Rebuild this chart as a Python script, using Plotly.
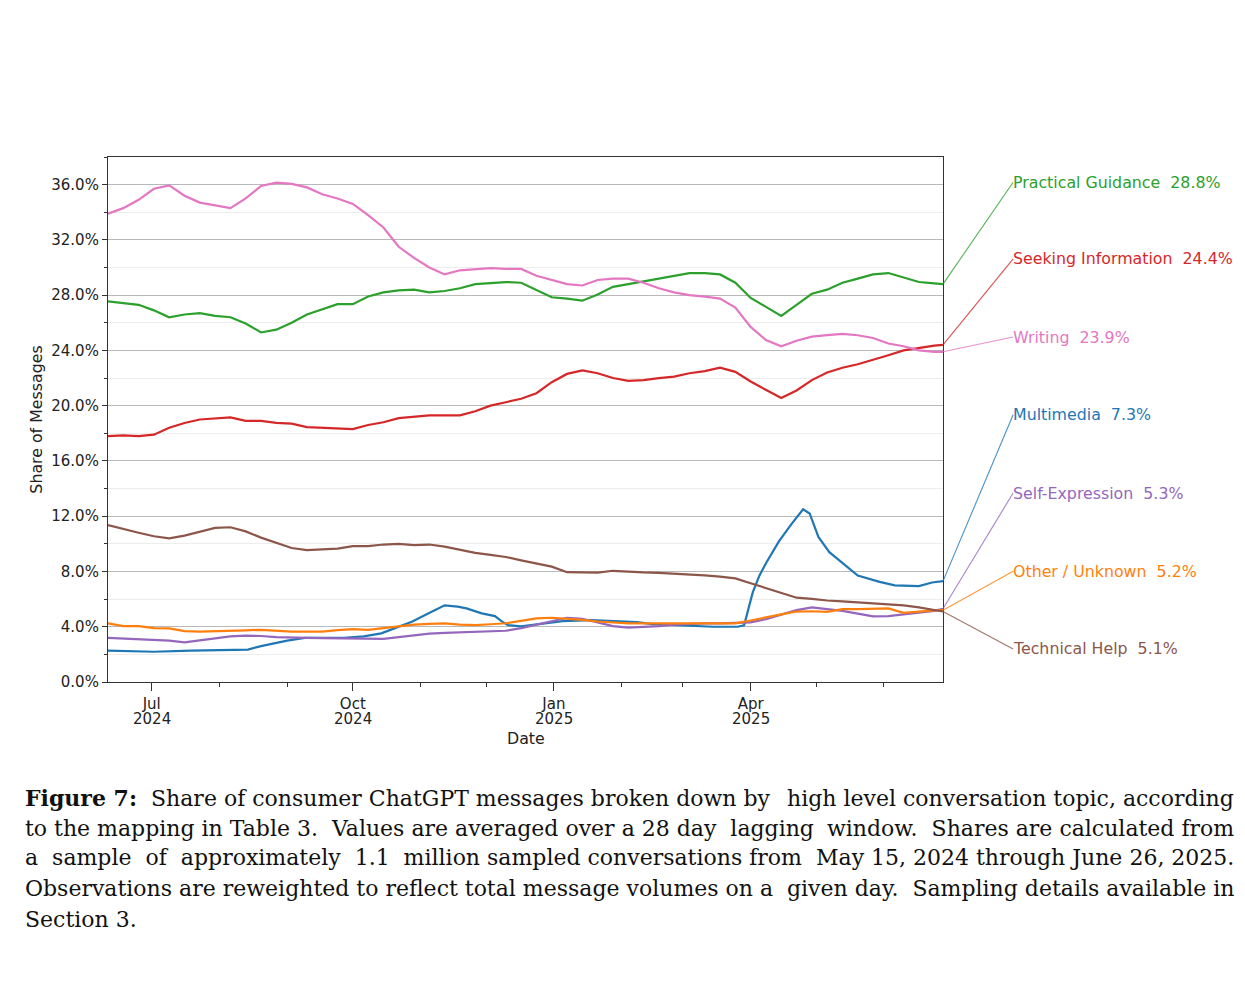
import pandas as pd
import plotly.graph_objects as go

# weekly sample points (28 day lagging average), plus the last day shown
dates = list(pd.date_range("2024-06-11", "2025-06-24", freq="7D")) + [pd.Timestamp("2025-06-28")]

practical = [27.55, 27.45, 27.3, 26.9, 26.4, 26.6, 26.7, 26.5, 26.4, 25.95,
             25.3, 25.5, 26.0, 26.6, 27.0, 27.35, 27.35, 27.9, 28.2, 28.35,
             28.4, 28.2, 28.3, 28.5, 28.8, 28.9, 28.95, 28.9, 28.4, 27.85,
             27.75, 27.6, 28.05, 28.6, 28.8, 29.0, 29.25, 29.45, 29.6, 29.6,
             29.5, 28.9, 27.8, 27.15, 26.5, 27.3, 28.1, 28.4, 28.9, 29.2,
             29.5, 29.6, 29.25, 28.95, 28.85, 28.8]

seeking = [17.8, 17.85, 17.8, 17.9, 18.4, 18.75, 19.0, 19.05, 19.15, 18.9,
           18.9, 18.75, 18.7, 18.45, 18.4, 18.3, 18.3, 18.6, 18.8, 19.1,
           19.2, 19.3, 19.3, 19.3, 19.6, 20.0, 20.25, 20.5, 20.9, 21.7,
           22.3, 22.55, 22.35, 22.0, 21.8, 21.85, 22.0, 22.1, 22.35, 22.5,
           22.75, 22.45, 21.75, 21.15, 20.55, 21.1, 21.85, 22.4, 22.75, 23.0,
           23.3, 23.65, 24.0, 24.2, 24.35, 24.4]

writing = [33.9, 34.3, 34.9, 35.7, 35.95, 35.2, 34.7, 34.5, 34.3, 35.0,
           35.9, 36.15, 36.05, 35.8, 35.3, 35.0, 34.6, 33.8, 32.9, 31.5,
           30.7, 30.0, 29.5, 29.8, 29.9, 29.95, 29.9, 29.9, 29.4, 29.1,
           28.8, 28.7, 29.1, 29.2, 29.2, 28.9, 28.5, 28.2, 28.0, 27.9,
           27.75, 27.1, 25.7, 24.75, 24.3, 24.7, 25.0, 25.1, 25.2, 25.1,
           24.9, 24.5, 24.3, 24.0, 23.9, 23.9]

self_expr = [3.2, 3.16, 3.08, 3.04, 3.0, 2.87, 3.02, 3.2, 3.3, 3.35,
             3.33, 3.25, 3.2, 3.2, 3.18, 3.16, 3.12, 3.09, 3.12, 3.25,
             3.4, 3.5, 3.55, 3.58, 3.64, 3.68, 3.71, 3.9, 4.15, 4.4,
             4.65, 4.58, 4.3, 4.05, 3.93, 3.98, 4.05, 4.15, 4.22, 4.24,
             4.24, 4.27, 4.32, 4.55, 4.85, 5.2, 5.4, 5.3, 5.15, 4.95,
             4.75, 4.77, 4.9, 5.0, 5.15, 5.3]

other = [4.24, 4.05, 4.05, 3.9, 3.88, 3.68, 3.64, 3.66, 3.7, 3.74,
         3.78, 3.72, 3.64, 3.64, 3.64, 3.75, 3.82, 3.78, 3.92, 4.05,
         4.15, 4.2, 4.24, 4.15, 4.12, 4.18, 4.25, 4.42, 4.6, 4.65,
         4.6, 4.5, 4.38, 4.3, 4.25, 4.24, 4.24, 4.26, 4.28, 4.28,
         4.25, 4.24, 4.45, 4.7, 4.9, 5.1, 5.12, 5.08, 5.28, 5.28,
         5.3, 5.33, 5.0, 5.1, 5.18, 5.2]

technical = [11.35, 11.05, 10.8, 10.55, 10.4, 10.6, 10.9, 11.15, 11.2, 10.9,
             10.45, 10.05, 9.7, 9.55, 9.62, 9.66, 9.83, 9.83, 9.95, 10.0,
             9.9, 9.95, 9.8, 9.55, 9.35, 9.2, 9.05, 8.8, 8.6, 8.35,
             7.95, 7.92, 7.92, 8.05, 7.98, 7.93, 7.9, 7.85, 7.78, 7.72,
             7.62, 7.5, 7.15, 6.8, 6.45, 6.1, 6.02, 5.9, 5.84, 5.77,
             5.72, 5.65, 5.55, 5.4, 5.22, 5.1]

# multimedia has a sharp spike in April, so it gets its own finer dates
mm_dates = ["2024-06-11", "2024-06-20", "2024-07-02", "2024-07-19", "2024-08-02",
            "2024-08-14", "2024-08-20", "2024-09-01", "2024-09-09", "2024-09-27",
            "2024-10-06", "2024-10-14", "2024-10-20", "2024-10-28", "2024-11-04",
            "2024-11-12", "2024-11-18", "2024-11-22", "2024-11-29", "2024-12-05",
            "2024-12-08", "2024-12-11", "2024-12-17", "2024-12-25", "2025-01-05",
            "2025-01-18", "2025-01-31", "2025-02-08", "2025-02-15", "2025-03-03",
            "2025-03-15", "2025-03-26", "2025-03-29", "2025-04-02", "2025-04-05",
            "2025-04-08", "2025-04-14", "2025-04-20", "2025-04-25", "2025-04-28",
            "2025-05-02", "2025-05-07", "2025-05-13", "2025-05-20", "2025-05-30",
            "2025-06-06", "2025-06-17", "2025-06-23", "2025-06-28"]
multimedia = [2.27, 2.25, 2.19, 2.27, 2.31,
              2.35, 2.6, 3.0, 3.2, 3.2,
              3.3, 3.52, 3.88, 4.36, 4.92,
              5.55, 5.45, 5.33, 4.97, 4.77,
              4.4, 4.12, 4.02, 4.2, 4.4,
              4.48, 4.36, 4.33, 4.19, 4.07,
              4.0, 4.0, 4.1, 6.5, 7.7,
              8.6, 10.2, 11.5, 12.5, 12.2,
              10.5, 9.4, 8.6, 7.7, 7.25,
              7.0, 6.94, 7.2, 7.3]

# topic name, x, values, colour (drawing order as in the original)
series = [
    ("Practical Guidance", dates, practical, "#2ca02c"),
    ("Seeking Information", dates, seeking, "#d62728"),
    ("Writing", dates, writing, "#e377c2"),
    ("Multimedia", mm_dates, multimedia, "#1f77b4"),
    ("Self-Expression", dates, self_expr, "#9467bd"),
    ("Other / Unknown", dates, other, "#ff7f0e"),
    ("Technical Help", dates, technical, "#8c564b"),
]

major_ticks = ["2024-07-01", "2024-10-01", "2025-01-01", "2025-04-01"]
month_text = ["Jul", "Oct", "Jan", "Apr"]
year_text = ["2024", "2024", "2025", "2025"]
minor_ticks = ["2024-08-01", "2024-09-01", "2024-11-01", "2024-12-01",
               "2025-02-01", "2025-03-01", "2025-05-01", "2025-06-01"]

Y_MAX = 38
# vertical slots of the end labels (paper units) and their left edge
label_y = [0.952, 0.806, 0.657, 0.509, 0.360, 0.211, 0.063]
label_x = 1.082

FONT = "DejaVu Sans"
TXT = "#222222"

fig = go.Figure()
for name, xs, ys, col in series:
    fig.add_trace(go.Scatter(x=xs, y=ys, mode="lines", name=name,
                             line=dict(color=col, width=2.2)))

for (name, xs, ys, col), ly in zip(series, label_y):
    end = ys[-1]
    fig.add_shape(type="line", xref="paper", yref="paper",
                  x0=1, y0=end / Y_MAX, x1=label_x + 0.002, y1=ly,
                  line=dict(color=col, width=1.1), opacity=0.8)
    fig.add_annotation(xref="paper", yref="paper", x=label_x, y=ly,
                       xanchor="left", yanchor="middle", showarrow=False,
                       text=f"{name}\u00a0\u00a0{end:.1f}%",
                       font=dict(family=FONT, size=15.8, color=col))

# second line of the date tick labels (years), kept tight under the months
for d, yr in zip(major_ticks, year_text):
    fig.add_annotation(xref="x", yref="paper", x=d, y=-36.5 / 525,
                       xanchor="center", yanchor="middle", showarrow=False,
                       text=yr, font=dict(family=FONT, size=15, color=TXT))
fig.add_annotation(xref="paper", yref="paper", x=0.5, y=-56 / 525,
                   xanchor="center", yanchor="middle", showarrow=False,
                   text="Date", font=dict(family=FONT, size=15.8, color=TXT))

# caption below the chart, each line split in two halves to look justified
S2 = "\u00a0 "
caption = [
    ("<b>Figure 7:</b>\u00a0 Share of consumer ChatGPT messages broken down by",
     "high level conversation topic, according"),
    ("to the mapping in Table 3.\u00a0 Values are averaged over a 28 day" + S2 + "lagging",
     "window.\u00a0 Shares are calculated from"),
    ("a" + S2 + "sample" + S2 + "of" + S2 + "approximately" + S2 + "1.1" + S2
     + "million sampled conversations from",
     "May 15, 2024 through June 26, 2025."),
    ("Observations are reweighted to reflect total message volumes on a",
     "given day.\u00a0 Sampling details available in"),
    ("Section 3.", ""),
]
cap_y = [798, 828, 858, 888, 919]
for (left, right), ypx in zip(caption, cap_y):
    yp = (682 - ypx) / 525
    fig.add_annotation(xref="paper", yref="paper", x=(23 - 108) / 835, y=yp,
                       xanchor="left", yanchor="middle", showarrow=False, text=left,
                       font=dict(family="DejaVu Serif", size=22, color="#111"))
    if right:
        fig.add_annotation(xref="paper", yref="paper", x=(1236 - 108) / 835, y=yp,
                           xanchor="right", yanchor="middle", showarrow=False, text=right,
                           font=dict(family="DejaVu Serif", size=22, color="#111"))

fig.update_layout(
    width=1245, height=996,
    margin=dict(l=100, r=310, t=149, b=322),
    paper_bgcolor="white", plot_bgcolor="white",
    showlegend=False,
    font=dict(family=FONT, size=15, color=TXT),
    xaxis=dict(
        type="date", range=["2024-06-11", "2025-06-28"],
        tickmode="array", tickvals=major_ticks, ticktext=month_text,
        ticks="outside", ticklen=8, tickcolor="#333", tickfont=dict(size=15),
        showgrid=False, zeroline=False,
        showline=True, mirror=True, linecolor="#333", linewidth=1.2,
        minor=dict(tickmode="array", tickvals=minor_ticks, ticks="outside",
                   ticklen=4, tickcolor="#333", showgrid=False),
    ),
    yaxis=dict(
        range=[0, Y_MAX], tick0=0, dtick=4, tickformat=".1f", ticksuffix="%",
        ticks="outside", ticklen=5, tickcolor="#333", tickfont=dict(size=15),
        showgrid=True, gridcolor="#b9b9b9", gridwidth=1, zeroline=False,
        showline=True, mirror=True, linecolor="#333", linewidth=1.2,
        minor=dict(dtick=2, ticks="outside", ticklen=3, tickcolor="#333",
                   showgrid=True, gridcolor="#ededed", gridwidth=1),
        title=dict(text="Share of Messages", font=dict(size=15.8), standoff=4),
    ),
)

fig.write_html("out.html")
